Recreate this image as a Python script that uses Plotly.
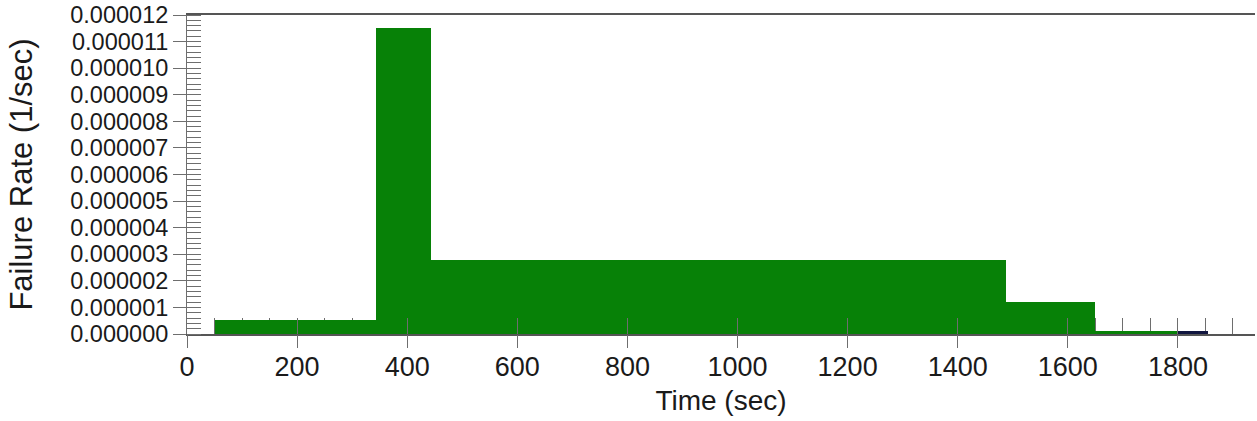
import plotly.graph_objects as go

# Piecewise-constant failure rate over mission phases
seg_start = [50, 343, 443, 1488, 1650, 1800]
seg_end = [343, 443, 1488, 1650, 1800, 1854]
failure_rate = [0.52e-6, 11.5e-6, 2.77e-6, 1.22e-6, 0.12e-6, 0.10e-6]
seg_color = ["#078107", "#078107", "#078107", "#078107", "#078107", "#11163f"]

x_range = [0, 1940]
y_range = [0, 1.2001e-5]

FONT = "Liberation Sans, Arial, sans-serif"
AXIS_GREY = "#6e6e6e"
TEXT = "#1a1a1a"

fig = go.Figure()

fig.add_trace(go.Bar(
    x=seg_start,
    y=failure_rate,
    width=[e - s for s, e in zip(seg_start, seg_end)],
    offset=0,
    marker=dict(color=seg_color, line=dict(width=0)),
    showlegend=False,
    hoverinfo="skip",
))

# empty traces that carry the overlay tick axes
fig.add_trace(go.Scatter(x=[], y=[], xaxis="x2", yaxis="y", showlegend=False))
fig.add_trace(go.Scatter(x=[], y=[], xaxis="x3", yaxis="y", showlegend=False))

fig.update_layout(
    width=1257,
    height=421,
    margin=dict(l=187, r=2, t=15, b=87),
    paper_bgcolor="white",
    plot_bgcolor="white",
    bargap=0,
    # main x axis: labels, line, inner half of the major ticks (over the bars)
    xaxis=dict(
        range=x_range,
        tick0=0,
        dtick=200,
        ticks="inside",
        ticklen=16,
        tickwidth=1,
        tickcolor=AXIS_GREY,
        tickfont=dict(family=FONT, size=27, color=TEXT),
        ticklabelstandoff=8,
        showline=True,
        linecolor="#555555",
        linewidth=1.5,
        mirror=True,
        showgrid=False,
        zeroline=False,
        layer="above traces",
        title=dict(text="Time (sec)", font=dict(family=FONT, size=28, color=TEXT), standoff=9),
    ),
    # outer half of the major x ticks
    xaxis2=dict(
        overlaying="x",
        anchor="y",
        side="bottom",
        range=x_range,
        tick0=0,
        dtick=200,
        ticks="outside",
        ticklen=13,
        tickwidth=1,
        tickcolor=AXIS_GREY,
        showticklabels=False,
        showline=False,
        showgrid=False,
        zeroline=False,
        layer="above traces",
    ),
    # minor x ticks, hidden behind the bars
    xaxis3=dict(
        overlaying="x",
        anchor="y",
        side="bottom",
        range=x_range,
        tick0=0,
        dtick=50,
        ticks="inside",
        ticklen=16,
        tickwidth=1,
        tickcolor=AXIS_GREY,
        showticklabels=False,
        showline=False,
        showgrid=False,
        zeroline=False,
        layer="below traces",
    ),
    yaxis=dict(
        range=y_range,
        tick0=0,
        dtick=1e-6,
        tickformat=".6f",
        ticks="outside",
        ticklen=13,
        tickwidth=1,
        tickcolor=AXIS_GREY,
        tickfont=dict(family=FONT, size=23.5, color=TEXT),
        ticklabelstandoff=0,
        minor=dict(ticks="inside", ticklen=14, dtick=0.2e-6, tickcolor=AXIS_GREY, tickwidth=1),
        showline=True,
        linecolor=AXIS_GREY,
        linewidth=1,
        showgrid=False,
        zeroline=False,
        title=dict(text="Failure Rate (1/sec)", font=dict(family=FONT, size=31, color=TEXT), standoff=28),
    ),
)

fig.write_html("out.html")
